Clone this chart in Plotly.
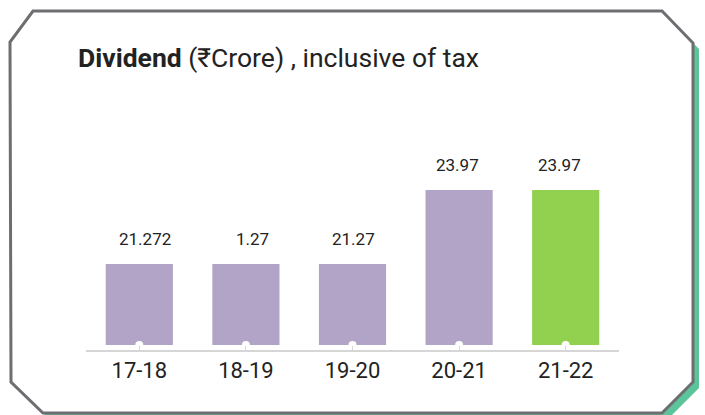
import plotly.graph_objects as go

# ---- data ----
years = ["17-18", "18-19", "19-20", "20-21", "21-22"]
value_labels = ["21.272", "1.27", "21.27", "23.97", "23.97"]   # as printed on the chart
bar_heights = [21.27, 21.27, 21.27, 23.97, 23.97]              # heights as drawn
bar_colors = ["#b1a4c7", "#b1a4c7", "#b1a4c7", "#b1a4c7", "#92d050"]

# ---- styling ----
label_xshift = [6, 7, 1, -2, -6]

W, H = 705, 415
ML, MR, MT, MB = 86, 86, 150, 65
PW, PH = W - ML - MR, H - MT - MB
Y_MIN, Y_MAX = 18.127, 25.43
BASE = 18.31

def px(x):
    return (x - ML) / PW

def py(y):
    return (H - MB - y) / PH

def path(points):
    return "M " + " L ".join(f"{px(x):.5f},{py(y):.5f}" for x, y in points) + " Z"

card = [(33, 11), (662, 11), (693, 43), (693, 382), (662, 413), (43, 413), (11, 382), (10, 42)]
shadow = [(x + 6, y + 6) for x, y in card]

fig = go.Figure()
fig.add_trace(go.Bar(
    x=years, y=[h - BASE for h in bar_heights], base=BASE,
    marker=dict(color=bar_colors, line=dict(width=0)),
    width=0.63, hoverinfo="skip", showlegend=False,
))
fig.add_trace(go.Scatter(
    x=years, y=[BASE] * len(years), mode="markers",
    marker=dict(color="white", size=8, line=dict(width=0)),
    hoverinfo="skip", showlegend=False, cliponaxis=False,
))

for yr, h, lab, dx in zip(years, bar_heights, value_labels, label_xshift):
    fig.add_annotation(x=yr, y=h, text=lab, showarrow=False, yanchor="middle",
                       yshift=25, xshift=dx,
                       font=dict(size=17, color="#222222", family="Roboto"))

fig.add_shape(type="path", path=path(shadow), xref="paper", yref="paper",
              fillcolor="#5cc49a", line=dict(width=0), layer="below")
fig.add_shape(type="path", path=path(card), xref="paper", yref="paper",
              fillcolor="white", line=dict(color="#6e6e72", width=3), layer="below")

fig.update_layout(
    width=W, height=H,
    margin=dict(l=ML, r=MR, t=MT, b=MB),
    paper_bgcolor="white", plot_bgcolor="rgba(0,0,0,0)",
    title=dict(text="<b>Dividend</b> (₹Crore) , inclusive of tax",
               x=78 / W, xanchor="left", y=1 - 58 / H, yanchor="middle",
               xref="container", yref="container",
               font=dict(family="Roboto", size=26.5, color="#222222")),
    xaxis=dict(showline=True, linecolor="#d6d6d6", linewidth=1.5,
               ticks="inside", ticklen=4, tickcolor="#d6d6d6",
               tickfont=dict(family="Roboto", size=22, color="#222222"),
               showgrid=False, zeroline=False, fixedrange=True),
    yaxis=dict(range=[Y_MIN, Y_MAX], visible=False, showgrid=False,
               zeroline=False, fixedrange=True),
)

fig.write_html("out.html",
               config={"displayModeBar": False, "staticPlot": True},
               post_script="document.body.style.margin='0';document.body.style.overflow='hidden';")
